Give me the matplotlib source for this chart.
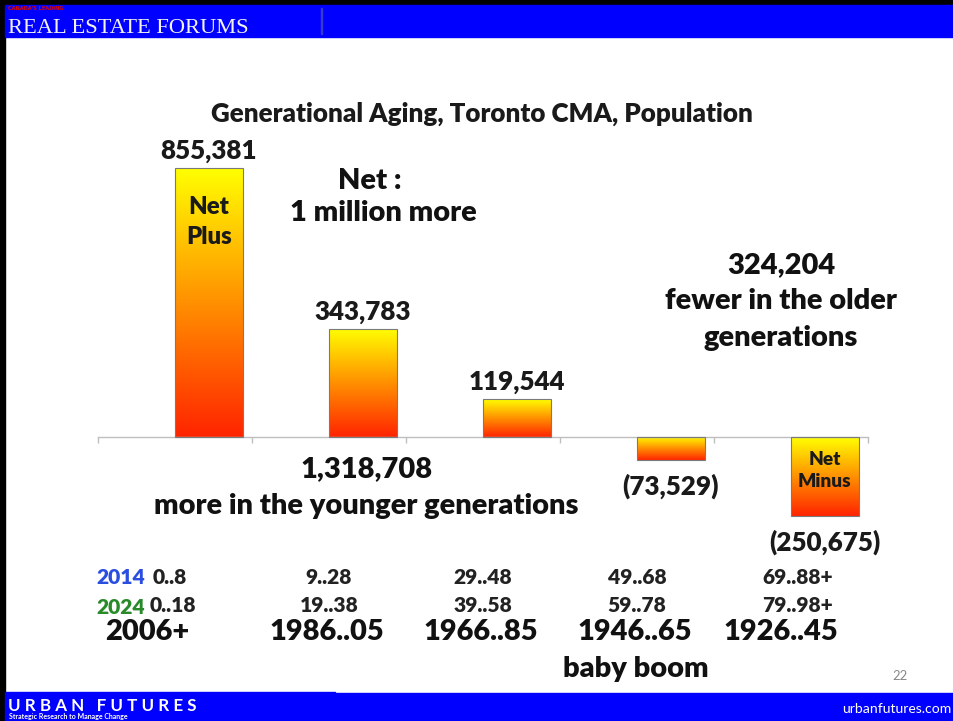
import numpy as np
import matplotlib
matplotlib.use("Agg")
import matplotlib.pyplot as plt
from matplotlib.patches import Rectangle
from matplotlib.colors import LinearSegmentedColormap

# ---- data ----
generations = ["2006+", "1986..05", "1966..85", "1946..65", "1926..45"]
net_change = [855381, 343783, 119544, -73529, -250675]
value_labels = ["855,381", "343,783", "119,544", "(73,529)", "(250,675)"]
ages_2014 = ["0..8", "9..28", "29..48", "49..68", "69..88+"]
ages_2024 = ["0..18", "19..38", "39..58", "59..78", "79..98+"]
title = "Generational Aging, Toronto CMA, Population"

W, H = 954, 721
plt.rcParams['font.family'] = ['Lato', 'DejaVu Sans']
fig = plt.figure(figsize=(W / 100, H / 100), dpi=100)
fig.patch.set_facecolor("white")
WT = "heavy"

def fx(x):
    return x / W

def fy(y):
    return 1 - y / H

def fs(px):
    return px * 0.72

# ---- header / footer decoration ----
BLUE = "#0000FF"
fig.patches.append(Rectangle((0, fy(5)), 1, 5 / H, transform=fig.transFigure, color="black", zorder=0))
fig.patches.append(Rectangle((0, 0), 5 / W, 1, transform=fig.transFigure, color="black", zorder=0))
fig.patches.append(Rectangle((fx(5), fy(37)), 1, 32 / H, transform=fig.transFigure, color=BLUE, zorder=0))
fig.patches.append(Rectangle((fx(321), fy(34)), 1.5 / W, 26 / H, transform=fig.transFigure, color="#3a3ad0", zorder=1))
fig.patches.append(Rectangle((fx(5), 0), 1, 28 / H, transform=fig.transFigure, color=BLUE, zorder=0))
fig.patches.append(Rectangle((fx(5), fy(693)), fx(330), 1.2 / H, transform=fig.transFigure, color=BLUE, zorder=0))

fig.text(fx(8), fy(33), "REAL ESTATE FORUMS", family=["Liberation Serif"], fontsize=fs(22.5),
         color="#f2f2f2", ha="left", va="baseline")
fig.text(fx(8), fy(10), "CANADA'S LEADING", family=["DejaVu Sans"], fontsize=fs(5), color="#e00000",
         fontweight="bold", ha="left", va="baseline")
fig.text(fx(8), fy(711), "U R B A N   F U T U R E S", fontsize=fs(17), color="white",
         fontweight="bold", ha="left", va="baseline")
fig.text(fx(9), fy(719), "Strategic Research to Manage Change", fontsize=fs(7), color="white",
         fontweight="bold", ha="left", va="baseline")
fig.text(fx(842), fy(713), "urbanfutures.com", fontsize=fs(14), color="white", ha="left", va="baseline")
fig.text(fx(900), fy(676), "22", fontsize=fs(13), color="#888888", ha="center", va="center")

# ---- chart axes ----
k = 3180.0  # value per pixel
top_px, bot_px, zero_px = 100, 600, 437
left_px, right_px = 98, 868
ax = fig.add_axes([fx(left_px), fy(bot_px), (right_px - left_px) / W, (bot_px - top_px) / H])
ax.patch.set_alpha(0)
for s in ["top", "right", "left"]:
    ax.spines[s].set_visible(False)
ax.spines["bottom"].set_position(("data", 0))
ax.spines["bottom"].set_color("#bfbfbf")
ax.spines["bottom"].set_linewidth(1.0)
ax.set_yticks([])
ax.set_xticks(np.arange(len(generations) + 1) - 0.5)
ax.set_xticklabels([])
ax.tick_params(axis="x", direction="out", length=4.5, color="#bfbfbf", width=1.0)

cmap = LinearSegmentedColormap.from_list("yr", ["#FF2400", "#FF9000", "#FFFF00"])
grad = np.linspace(0, 1, 256).reshape(-1, 1)
offset, width = 0.22, 0.44
xs = np.arange(len(generations)) + offset
bars = ax.bar(xs, net_change, width=width, color="none", edgecolor="#7a7a7a", linewidth=0.8, zorder=3)
for b in bars:
    x0, y0 = b.get_x(), b.get_y()
    w, h = b.get_width(), b.get_height()
    ylo, yhi = min(y0, y0 + h), max(y0, y0 + h)
    im = ax.imshow(grad, extent=[x0, x0 + w, ylo, yhi], origin="lower", cmap=cmap,
                   aspect="auto", zorder=2, interpolation="bicubic")
    im.set_clip_path(b)
ax.set_xlim(-0.5, len(generations) - 0.5)
ax.set_ylim(-(bot_px - zero_px) * k, (zero_px - top_px) * k)

for xi, v, lab in zip(xs, net_change, value_labels):
    if v >= 0:
        ax.annotate(lab, (xi, v), xytext=(0, 5), textcoords="offset pixels", ha="center",
                    va="bottom", fontsize=fs(26), fontweight=WT, color="#1a1a1a")
    else:
        ax.annotate(lab, (xi, v), xytext=(0, -26), textcoords="offset pixels", ha="center",
                    va="center", fontsize=fs(26), fontweight=WT, color="#1a1a1a")

ax.text(xs[0], net_change[0] * 0.80, "Net\nPlus", ha="center", va="center", fontsize=fs(24),
        fontweight=WT, color="#1a1a1a", linespacing=1.45)
ax.text(xs[-1], net_change[-1] * 0.42, "Net\nMinus", ha="center", va="center", fontsize=fs(19),
        fontweight=WT, color="#1a1a1a", linespacing=1.35)

# ---- annotation text ----
BIG = fs(29)
fig.text(fx(482), fy(114), title, ha="center", va="center", fontsize=fs(26), fontweight=WT, color="#1a1a1a")
fig.text(fx(370), fy(181), "Net :", ha="center", va="center", fontsize=BIG, fontweight=WT, color="#111111")
fig.text(fx(383), fy(213), "1 million more", ha="center", va="center", fontsize=BIG, fontweight=WT, color="#111111")
fig.text(fx(781), fy(265), "324,204", ha="center", va="center", fontsize=BIG, fontweight=WT, color="#111111")
fig.text(fx(781), fy(301), "fewer in the older", ha="center", va="center", fontsize=BIG, fontweight=WT, color="#111111")
fig.text(fx(781), fy(338), "generations", ha="center", va="center", fontsize=BIG, fontweight=WT, color="#111111")
fig.text(fx(367), fy(469), "1,318,708", ha="center", va="center", fontsize=BIG, fontweight=WT, color="#111111")
fig.text(fx(366), fy(506), "more in the younger generations", ha="center", va="center", fontsize=BIG,
         fontweight=WT, color="#111111")

# ---- bottom label rows ----
centers_px = [left_px + (i + 0.5) * (right_px - left_px) / len(generations) for i in range(len(generations))]
AGE = fs(21)
GEN = fs(29)
fig.text(fx(96), fy(578), "2014", ha="left", va="center", fontsize=AGE, fontweight=WT, color="#2a4ee0")
fig.text(fx(96), fy(608), "2024", ha="left", va="center", fontsize=AGE, fontweight=WT, color="#2a8a2a")
fig.text(fx(153), fy(578), ages_2014[0], ha="left", va="center", fontsize=AGE, fontweight=WT, color="#222222")
fig.text(fx(150), fy(605), ages_2024[0], ha="left", va="center", fontsize=AGE, fontweight=WT, color="#222222")
fig.text(fx(147), fy(632), generations[0], ha="center", va="center", fontsize=GEN, fontweight=WT, color="#111111")
gen_shift = [0, -2, -2, -2, -10]
age_shift = [0, 0, 0, 0, 7]
for i in range(1, len(generations)):
    c = centers_px[i]
    fig.text(fx(c + age_shift[i]), fy(578), ages_2014[i], ha="center", va="center", fontsize=AGE,
             fontweight=WT, color="#222222")
    fig.text(fx(c + age_shift[i]), fy(605), ages_2024[i], ha="center", va="center", fontsize=AGE,
             fontweight=WT, color="#222222")
    fig.text(fx(c + gen_shift[i]), fy(632), generations[i], ha="center", va="center", fontsize=GEN,
             fontweight=WT, color="#111111")
fig.text(fx(636), fy(669), "baby boom", ha="center", va="center", fontsize=GEN, fontweight=WT, color="#111111")

fig.savefig("out.png", dpi=100)
